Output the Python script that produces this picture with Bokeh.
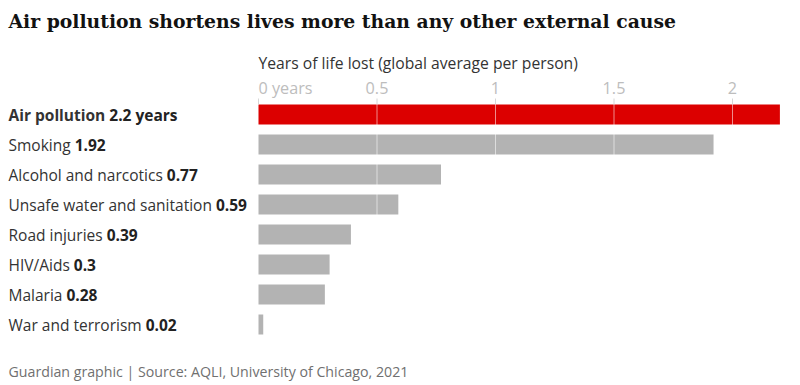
import os
import subprocess

from PIL import ImageFont
from bokeh.plotting import figure
from bokeh.models import Range1d, ColumnDataSource
from bokeh.core.properties import value
from bokeh.embed import file_html
from bokeh.resources import INLINE

# ---------------- data ----------------
causes = ["Air pollution", "Smoking", "Alcohol and narcotics",
          "Unsafe water and sanitation", "Road injuries", "HIV/Aids",
          "Malaria", "War and terrorism"]
years = [2.2, 1.92, 0.77, 0.59, 0.39, 0.3, 0.28, 0.02]
value_labels = ["2.2 years", "1.92", "0.77", "0.59", "0.39", "0.3", "0.28", "0.02"]
tick_values = [0, 0.5, 1, 1.5, 2]
tick_labels = ["0 years", "0.5", "1", "1.5", "2"]
title_text = "Air pollution shortens lives more than any other external cause"
subtitle_text = "Years of life lost (global average per person)"
source_text = "Guardian graphic | Source: AQLI, University of Chicago, 2021"

# ---------------- font metrics ----------------
SANS = "Open Sans"
SERIF = "DejaVu Serif"
_paths = {}
_fonts = {}


def font_file(family, bold):
    key = (family, bold)
    if key in _paths:
        return _paths[key]
    path = None
    try:
        r = subprocess.run(["fc-match", "-f", "%{file}",
                            f"{family}:style={'Bold' if bold else 'Regular'}"],
                           capture_output=True, text=True, timeout=10)
        cand = r.stdout.strip()
        if cand and os.path.exists(cand):
            path = cand
    except Exception:
        path = None
    _paths[key] = path
    return path


def get_font(family, bold):
    key = (family, bold)
    if key in _fonts:
        return _fonts[key]
    entry = None
    path = font_file(family, bold)
    if path:
        try:
            f = ImageFont.truetype(path, 200)
            scale = 1.0
            varied = False
            try:
                names = f.get_variation_names()
                want = b"Bold" if bold else b"Regular"
                if want in names:
                    f.set_variation_by_name(want)
                    varied = True
            except Exception:
                pass
            if bold and not varied and path == font_file(family, False):
                scale = 1.08
            entry = (f, scale)
        except Exception:
            entry = None
    _fonts[key] = entry
    return entry


def measure(s, family, size, bold=False):
    entry = get_font(family, bold)
    if entry:
        f, scale = entry
        try:
            return f.getlength(s) * scale * size / 200.0
        except Exception:
            pass
    return len(s) * size * (0.58 if bold else 0.54)


def fit(parts, target):
    w = sum(measure(t, fam, 100, b) for t, fam, b in parts)
    return round(100.0 * target / w, 1)


label_fs = fit([("Unsafe water and sanitation ", SANS, False), ("0.59", SANS, True)], 239)
title_fs = fit([(title_text, SERIF, True)], 669)
sub_fs = fit([(subtitle_text, SANS, False)], 320)
tick_fs = fit([("0 years", SANS, False)], 54)
foot_fs = fit([(source_text, SANS, False)], 400)

# ---------------- geometry (canvas pixels -> data) ----------------
W, H = 800, 385
PX_PER_UNIT = 237.0
ZERO_X = 258.0        # canvas x of 0 years
LEFT_PAD = 8.0        # canvas x where left texts start
ROW_PX = 30.0
ROW0_CY = 114.0       # canvas y of first bar centre


def cy(px):
    return (px - ROW0_CY) / ROW_PX


x_start = -ZERO_X / PX_PER_UNIT
x_end = (W - ZERO_X) / PX_PER_UNIT

rows = list(range(len(causes)))
bar_colors = ["#dc0000" if i == 0 else "#b3b3b3" for i in rows]
name_styles = ["bold" if i == 0 else "normal" for i in rows]
val_offsets = [LEFT_PAD + measure(c + " ", SANS, label_fs, i == 0)
               for i, c in enumerate(causes)]

src = ColumnDataSource(dict(
    y=rows, years=years, color=bar_colors, name=causes, val=value_labels,
    name_style=name_styles, val_offset=val_offsets,
    lx=[x_start] * len(rows),
))
tick_src = ColumnDataSource(dict(
    x=tick_values, label=tick_labels,
    align=["left" if i == 0 else "center" for i in range(len(tick_values))],
))
grid_src = ColumnDataSource(dict(x=tick_values[1:]))

p = figure(width=W, height=H, output_backend="svg", toolbar_location=None,
           x_range=Range1d(x_start, x_end), y_range=Range1d(cy(H), cy(0)),
           x_axis_location=None, y_axis_location=None, title=None,
           min_border=0, min_border_left=0, min_border_right=0,
           min_border_top=0, min_border_bottom=0)
p.outline_line_color = None
p.background_fill_color = "white"
p.border_fill_color = "white"
p.xgrid.visible = False
p.ygrid.visible = False

# bars
p.hbar(y="y", left=0, right="years", height=2.0 / 3.0, color="color",
       line_color=None, source=src)

# gridlines over the bars
p.segment(x0="x", y0=cy(104), x1="x", y1=cy(334), source=grid_src,
          line_color="white", line_alpha=0.55, line_width=1)

# tick marks and tick labels (top axis)
p.segment(x0="x", y0=cy(98), x1="x", y1=cy(104), source=tick_src,
          line_color="#d6d6d6", line_width=1)
p.text(x="x", y=cy(87), text="label", source=tick_src, text_align="align",
       text_baseline="middle", text_font=value(SANS),
       text_font_size=f"{tick_fs}px", text_color="#bdbdbd")

# row labels
p.text(x="lx", y="y", text="name", source=src, text_font=value(SANS),
       text_font_size=f"{label_fs}px", text_font_style="name_style",
       x_offset=LEFT_PAD,
       text_color="#333333", text_align="left", text_baseline="middle")
p.text(x="lx", y="y", text="val", source=src, text_font=value(SANS),
       text_font_size=f"{label_fs}px", text_font_style="bold",
       x_offset="val_offset",
       text_color="#222222", text_align="left", text_baseline="middle")

# title, axis title, source line
p.text(x=[x_start], y=[cy(20)], text=[title_text], x_offset=LEFT_PAD,
       text_font=value(SERIF), text_font_size=f"{title_fs}px",
       text_font_style="bold", text_color="#121212",
       text_align="left", text_baseline="middle")
p.text(x=[tick_values[0]], y=[cy(62)], text=[subtitle_text],
       text_font=value(SANS), text_font_size=f"{sub_fs}px",
       text_color="#333333", text_align="left", text_baseline="middle")
p.text(x=[x_start], y=[cy(371)], text=[source_text], x_offset=LEFT_PAD,
       text_font=value(SANS), text_font_size=f"{foot_fs}px",
       text_color="#707070", text_align="left", text_baseline="middle")

open("out.html", "w").write(file_html(p, INLINE))
